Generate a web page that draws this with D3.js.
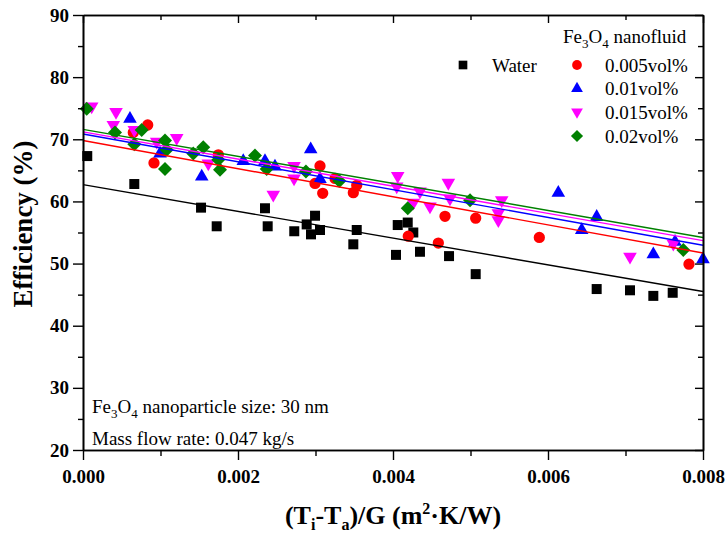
<!DOCTYPE html>
<html>
<head>
<meta charset="utf-8">
<script src="https://cdn.jsdelivr.net/npm/d3@7/dist/d3.min.js"></script>
<style>
  body { margin: 0; background: #fff; }
  text { font-family: "Liberation Serif", "Times New Roman", serif; }
</style>
</head>
<body>
<div id="chart"></div>
<script>
//----------------------------------------------------------------
// données
//----------------------------------------------------------------
var waterX = [0.000055, 0.000662, 0.001523, 0.001725, 0.002348, 0.002383, 0.002726, 0.002886,
              0.002942, 0.002994, 0.003058, 0.003488, 0.003532, 0.004039, 0.004061, 0.004190,
              0.004262, 0.004348, 0.004723, 0.005067, 0.006628, 0.007058, 0.007359, 0.007609];
var waterY = [67.3, 62.8, 59.0, 56.0, 58.9, 56.0, 55.2, 56.3, 54.7, 57.7, 55.4, 53.1,
              55.4, 51.4, 56.2, 56.6, 55.0, 51.9, 51.2, 48.3, 45.9, 45.7, 44.8, 45.3];

var p005X = [0.000649, 0.000835, 0.000916, 0.001746, 0.002994, 0.003058, 0.003093, 0.003252,
             0.003488, 0.003532, 0.004197, 0.004585, 0.004671, 0.005067, 0.005888, 0.007819];
var p005Y = [71.1, 72.3, 66.2, 67.5, 62.9, 65.7, 61.3, 63.7, 61.4, 62.6, 54.4, 53.3, 57.6, 57.3, 54.2, 49.9];

var p01X = [0.000606, 0.000994, 0.001532, 0.002068, 0.002348, 0.002477, 0.002938, 0.003058,
            0.006133, 0.006435, 0.006628, 0.007359, 0.007639, 0.008000];
var p01Y = [73.3, 67.7, 64.0, 66.5, 66.5, 65.6, 68.4, 63.6, 61.4, 55.4, 57.5, 51.5, 53.5, 50.7];

var p015X = [0.000112, 0.000391, 0.000426, 0.000662, 0.000951, 0.001209, 0.001617, 0.002455,
             0.002723, 0.002723, 0.004048, 0.004061, 0.004262, 0.004348, 0.004477, 0.004714,
             0.004735, 0.005359, 0.005359, 0.005403, 0.007058, 0.007617];
var p015Y = [75.3, 72.3, 74.4, 71.5, 69.6, 70.2, 66.1, 61.1, 65.7, 63.7, 62.4, 64.1, 59.8, 61.6,
             59.2, 63.0, 60.5, 58.1, 57.0, 60.2, 51.1, 53.2];

var p02X = [0.000048, 0.000413, 0.000662, 0.000757, 0.001058, 0.001080, 0.001058, 0.001423,
            0.001552, 0.001746, 0.001768, 0.002219, 0.002370, 0.002877, 0.003307, 0.004190,
            0.004994, 0.007746];
var p02Y = [74.9, 71.1, 69.2, 71.5, 69.8, 68.3, 65.2, 67.7, 68.7, 66.7, 65.1, 67.4, 65.2, 64.8,
            63.3, 58.9, 60.2, 52.2];

// droites d'ajustement : valeur en x = 0 et en x = 0.008
var fitStart = [62.7, 69.8, 70.85, 71.2, 71.6];
var fitEnd   = [45.5, 51.7, 52.95, 53.7, 54.2];

var seriesNames = ["Water", "0.005vol%", "0.01vol%", "0.015vol%", "0.02vol%"];
var seriesColors = ["#000000", "#ff0000", "#0000ff", "#ff00ff", "#008000"];

var xTicks = [0.000, 0.002, 0.004, 0.006, 0.008];
var yTicks = [20, 30, 40, 50, 60, 70, 80, 90];

//----------------------------------------------------------------
// svg
//----------------------------------------------------------------
var largeur = 728, hauteur = 533;
var marge = {gauche: 83, droite: 25, haut: 15, bas: 83};
var svg = d3.select("#chart")
  .append("svg")
  .attr("width", largeur)
  .attr("height", hauteur);

var x = d3.scaleLinear().domain([0, 0.008]).range([marge.gauche, largeur - marge.droite]);
var y = d3.scaleLinear().domain([20, 90]).range([hauteur - marge.bas, marge.haut]);

var x0 = x.range()[0], x1 = x.range()[1], y0 = y.range()[0], y1 = y.range()[1];

// symboles
var symboles = [
  {type: d3.symbolSquare, size: 100, rot: 0},
  {type: d3.symbolCircle, size: 100, rot: 0},
  {type: d3.symbolTriangle, size: 80, rot: 0},
  {type: d3.symbolTriangle, size: 80, rot: 180},
  {type: d3.symbolSquare, size: 98, rot: 45}
];

var donnees = [
  d3.zip(waterX, waterY),
  d3.zip(p005X, p005Y),
  d3.zip(p01X, p01Y),
  d3.zip(p015X, p015Y),
  d3.zip(p02X, p02Y)
];

//----------------------------------------------------------------
// points
//----------------------------------------------------------------
var gPoints = svg.append("g");
donnees.forEach(function(pts, i){
  var s = symboles[i];
  gPoints.selectAll(".serie" + i)
    .data(pts)
    .enter()
    .append("path")
    .attr("class", "serie" + i)
    .attr("d", d3.symbol().type(s.type).size(s.size))
    .attr("fill", seriesColors[i])
    .attr("transform", function(d){
      return "translate(" + x(d[0]) + "," + y(d[1]) + ") rotate(" + s.rot + ")";
    });
});

// droites
svg.append("g").selectAll("line")
  .data(d3.range(5))
  .enter()
  .append("line")
  .attr("x1", x(0))
  .attr("y1", function(i){ return y(fitStart[i]); })
  .attr("x2", x(0.008))
  .attr("y2", function(i){ return y(fitEnd[i]); })
  .attr("stroke", function(i){ return seriesColors[i]; })
  .attr("stroke-width", 1.4);

//----------------------------------------------------------------
// axes
//----------------------------------------------------------------
var fontAxe = "bold 19px 'Liberation Serif', 'Times New Roman', serif";

var axeX = svg.append("g")
  .attr("transform", "translate(0," + y0 + ")")
  .call(d3.axisBottom(x).tickValues(xTicks).tickSize(10).tickSizeOuter(0).tickFormat(d3.format(".3f")));
svg.append("g")
  .attr("transform", "translate(0," + y0 + ")")
  .call(d3.axisBottom(x).tickValues([0.001, 0.003, 0.005, 0.007]).tickSize(6).tickSizeOuter(0).tickFormat(""));

var axeY = svg.append("g")
  .attr("transform", "translate(" + x0 + ",0)")
  .call(d3.axisLeft(y).tickValues(yTicks).tickSize(10).tickSizeOuter(0));
svg.append("g")
  .attr("transform", "translate(" + x0 + ",0)")
  .call(d3.axisLeft(y).tickValues([25, 35, 45, 55, 65, 75, 85]).tickSize(5).tickSizeOuter(0).tickFormat(""));

// haut et droite, ticks vers l'intérieur
svg.append("g")
  .attr("transform", "translate(0," + y1 + ")")
  .call(d3.axisBottom(x).tickValues(xTicks).tickSize(8).tickSizeOuter(0).tickFormat(""));
svg.append("g")
  .attr("transform", "translate(0," + y1 + ")")
  .call(d3.axisBottom(x).tickValues([0.001, 0.003, 0.005, 0.007]).tickSize(5).tickSizeOuter(0).tickFormat(""));
svg.append("g")
  .attr("transform", "translate(" + x1 + ",0)")
  .call(d3.axisLeft(y).tickValues(yTicks).tickSize(8).tickSizeOuter(0).tickFormat(""));
svg.append("g")
  .attr("transform", "translate(" + x1 + ",0)")
  .call(d3.axisLeft(y).tickValues([25, 35, 45, 55, 65, 75, 85]).tickSize(5).tickSizeOuter(0).tickFormat(""));

svg.selectAll(".domain").attr("stroke", "#000").attr("stroke-width", 1.6);
svg.selectAll(".tick line").attr("stroke", "#000").attr("stroke-width", 1.4);
svg.selectAll(".tick text").style("font", fontAxe).attr("fill", "#000");
axeX.selectAll(".tick text").attr("dy", "1.05em");
axeY.selectAll(".tick text").attr("x", -14);

// titres des axes
var tx = svg.append("text")
  .attr("x", (x0 + x1) / 2)
  .attr("y", 524)
  .attr("text-anchor", "middle")
  .style("font-weight", "bold")
  .style("font-size", "26px");
tx.append("tspan").text("(T");
tx.append("tspan").text("i").attr("dy", 6).style("font-size", "16px");
tx.append("tspan").text("-T").attr("dy", -6);
tx.append("tspan").text("a").attr("dy", 6).style("font-size", "16px");
tx.append("tspan").text(")/G (m").attr("dy", -6);
tx.append("tspan").text("2").attr("dy", -10).style("font-size", "16px");
tx.append("tspan").text("\u00b7K/W)").attr("dy", 10);

svg.append("text")
  .attr("transform", "translate(32," + 224 + ") rotate(-90)")
  .attr("text-anchor", "middle")
  .style("font-weight", "bold")
  .style("font-size", "27px")
  .text("Efficiency (%)");

//----------------------------------------------------------------
// légende
//----------------------------------------------------------------
function fe3o4(sel, reste){
  sel.append("tspan").text("Fe");
  sel.append("tspan").text("3").attr("dy", 5).style("font-size", "13px");
  sel.append("tspan").text("O").attr("dy", -5);
  sel.append("tspan").text("4").attr("dy", 5).style("font-size", "13px");
  sel.append("tspan").text(reste).attr("dy", -5);
}

var leg = svg.append("g").style("font-size", "19px");
fe3o4(leg.append("text").attr("x", 563).attr("y", 43), " nanofluid");

var legRows = [
  {i: 0, sx: 463, tx: 492, cy: 65},
  {i: 1, sx: 577, tx: 605, cy: 65},
  {i: 2, sx: 577, tx: 605, cy: 88.5},
  {i: 3, sx: 577, tx: 605, cy: 112},
  {i: 4, sx: 577, tx: 605, cy: 136}
];
legRows.forEach(function(r){
  var s = symboles[r.i];
  leg.append("path")
    .attr("d", d3.symbol().type(s.type).size(s.size * 0.75))
    .attr("fill", seriesColors[r.i])
    .attr("transform", "translate(" + r.sx + "," + r.cy + ") rotate(" + s.rot + ")");
  leg.append("text")
    .attr("x", r.tx)
    .attr("y", r.cy + 6.5)
    .text(seriesNames[r.i]);
});

// annotations
var note = svg.append("g").style("font-size", "19px");
fe3o4(note.append("text").attr("x", 92).attr("y", 413), " nanoparticle size: 30 nm");
note.append("text").attr("x", 92).attr("y", 445).text("Mass flow rate: 0.047 kg/s");
</script>
</body>
</html>
